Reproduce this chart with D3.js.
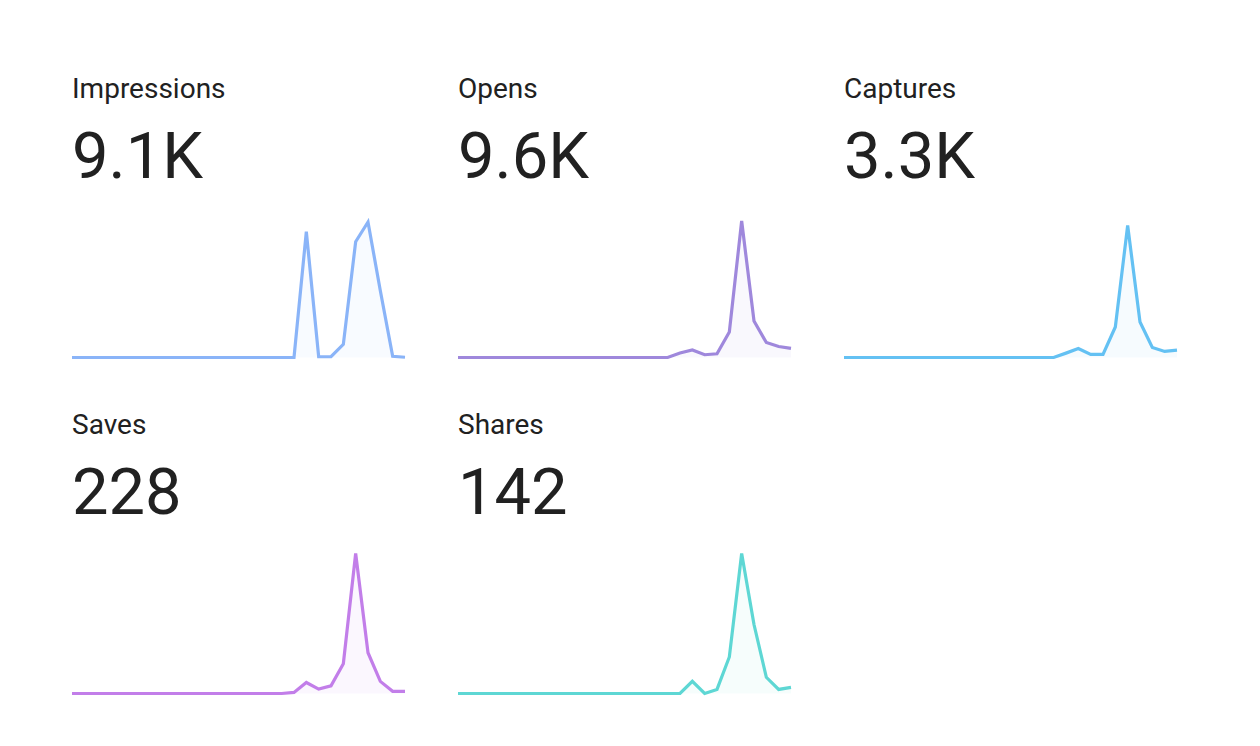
<!DOCTYPE html>
<html>
<head>
<meta charset="utf-8">
<script src="https://cdn.jsdelivr.net/npm/d3@7"></script>
<style>
  body { margin: 0; background: #fff; }
  text { font-family: Roboto, "Noto Sans", sans-serif; fill: #212121; }
</style>
</head>
<body>
<div id="chart"></div>
<script>
var svgWidth = 1260;
var svgHeight = 746;

// card titles and headline totals
var metrics = ["Impressions", "Opens", "Captures", "Saves", "Shares"];
var totals = ["9.1K", "9.6K", "3.3K", "228", "142"];
var colors = ["#8ab4f8", "#9f88dc", "#64c1f3", "#c27ee9", "#5ed7d4"];

// daily values, 28 days
var impressions = [0,0,0,0,0,0,0,0,0,0,0,0,0,0,0,0,0,0,0, 2490, 15, 15, 260, 2290, 2680, 1320, 25, 5];
var opens       = [0,0,0,0,0,0,0,0,0,0,0,0,0,0,0,0,0,0, 170, 290, 105, 140, 970, 5200, 1390, 570, 420, 345];
var captures    = [0,0,0,0,0,0,0,0,0,0,0,0,0,0,0,0,0,0, 60, 123, 42, 42, 418, 1808, 486, 137, 83, 101];
var saves       = [0,0,0,0,0,0,0,0,0,0,0,0,0,0,0,0,0,0, 1, 10, 4, 7, 27, 127, 37, 11, 2, 2];
var shares      = [0,0,0,0,0,0,0,0,0,0,0,0,0,0,0,0,0,0,0, 6, 0, 2, 18, 69, 34, 8, 2, 3];
var series = [impressions, opens, captures, saves, shares];

// top of each sparkline's value scale
var yMax = [2700, 5200, 1870, 127, 69];

var cardWidth = 386;
var rowHeight = 336;
var left = 72;
var sparkWidth = 333;
var sparkHeights = [136.5, 140];

var svg = d3.select("#chart")
  .append("svg")
  .attr("width", svgWidth)
  .attr("height", svgHeight);

metrics.forEach(function(name, i) {
  var col = i % 3;
  var row = Math.floor(i / 3);
  var card = svg.append("g")
    .attr("transform", `translate(${left + col * cardWidth}, ${row * rowHeight})`);

  card.append("text")
    .attr("x", 0)
    .attr("y", 98)
    .attr("font-size", 28)
    .text(name);

  card.append("text")
    .attr("x", 0)
    .attr("y", 178)
    .attr("font-size", 65)
    .text(totals[i]);

  var data = series[i];
  var baseY = 357.5;

  var xScale = d3.scaleLinear()
    .domain([0, data.length - 1])
    .range([0, sparkWidth]);

  var yScale = d3.scaleLinear()
    .domain([0, yMax[i]])
    .range([baseY, baseY - sparkHeights[row]]);

  var area = d3.area()
    .x((d, j) => xScale(j))
    .y0(yScale(0))
    .y1(d => yScale(d));

  var line = d3.line()
    .x((d, j) => xScale(j))
    .y(d => yScale(d));

  card.append("path")
    .datum(data)
    .attr("d", area)
    .attr("fill", colors[i])
    .attr("fill-opacity", 0.06);

  card.append("path")
    .datum(data)
    .attr("d", line)
    .attr("fill", "none")
    .attr("stroke", colors[i])
    .attr("stroke-width", 3.2);
});
</script>
</body>
</html>
